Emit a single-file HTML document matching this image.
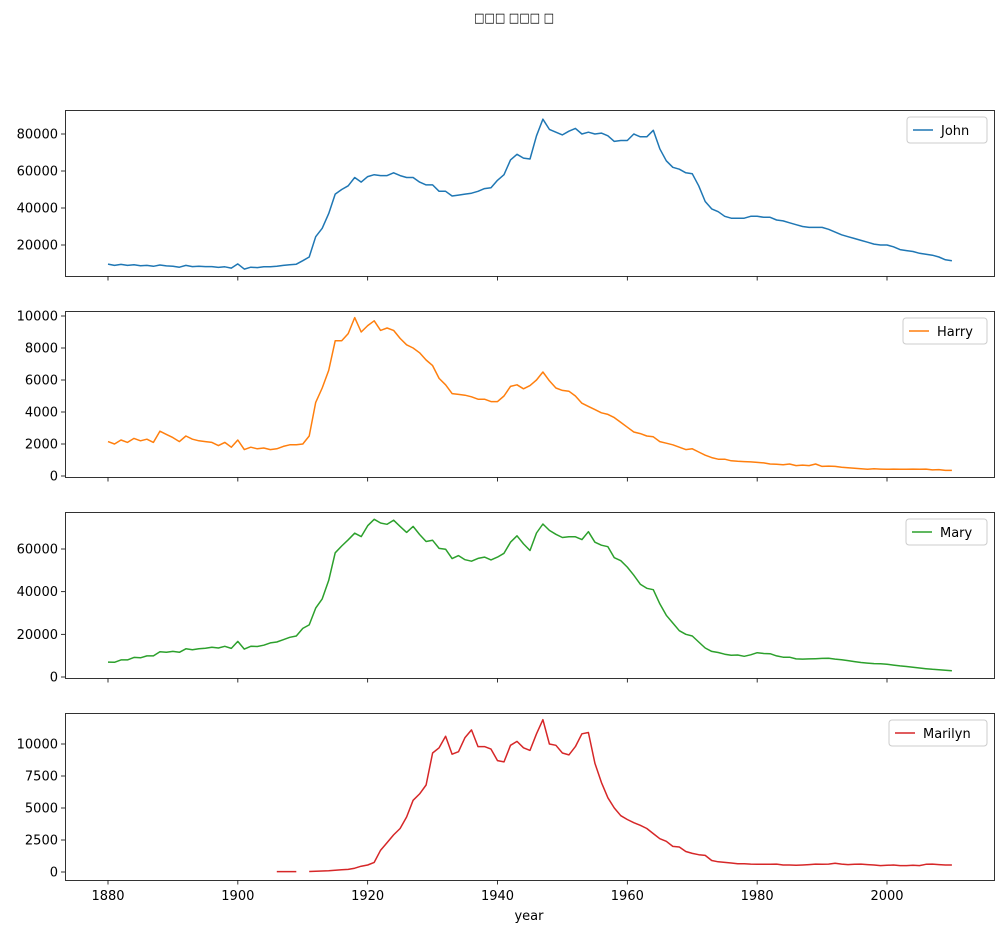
<!DOCTYPE html><html><head><meta charset="utf-8"><style>body{margin:0;background:#fff}svg{display:block}text{font-family:"DejaVu Sans","Liberation Sans",sans-serif;font-size:13px;fill:#000}</style></head><body>
<svg id="s" width="1004" height="933" xmlns="http://www.w3.org/2000/svg">
<text x="474" y="22" font-size="17" textLength="80" lengthAdjust="spacingAndGlyphs">□□□ □□□ □</text>
</svg>
<script>
const s=document.getElementById('s');const NS='http://www.w3.org/2000/svg';
function el(t,a,txt){const e=document.createElementNS(NS,t);for(const k in a)e.setAttribute(k,a[k]);if(txt!=null)e.textContent=txt;s.appendChild(e);return e;}
const X=y=>108+(y-1880)*(779/120);
const john=[9.7,9,9.5,9,9.3,8.8,9,8.5,9.2,8.7,8.5,8,9,8.3,8.5,8.3,8.3,7.9,8.2,7.5,9.8,7,8,7.8,8.2,8.2,8.5,9,9.3,9.6,11.5,13.5,24.5,29,37,47.5,50,52,56.5,54,57,58,57.5,57.5,59,57.5,56.5,56.5,54,52.5,52.5,49,49,46.5,47,47.5,48,49,50.5,51,55,58,66,69,67,66.5,79,88,82.5,81,79.5,81.5,83,80,81,80,80.5,79,76,76.5,76.5,80,78.5,78.5,82,72,65.5,62,61,59,58.5,52,43.5,39.5,38,35.5,34.5,34.5,34.5,35.5,35.5,35,35,33.5,33,32,31,30,29.5,29.5,29.5,28.5,27,25.5,24.5,23.5,22.5,21.5,20.5,20,20,19,17.5,17,16.5,15.5,15,14.5,13.5,12,11.5];
const harry=[2.15,2,2.25,2.1,2.35,2.2,2.3,2.1,2.8,2.6,2.4,2.15,2.5,2.3,2.2,2.15,2.1,1.9,2.1,1.8,2.25,1.65,1.8,1.7,1.75,1.65,1.7,1.85,1.95,1.95,2,2.5,4.6,5.5,6.6,8.45,8.45,8.9,9.9,9,9.4,9.7,9.1,9.25,9.1,8.6,8.2,8,7.7,7.25,6.9,6.1,5.7,5.15,5.1,5.05,4.95,4.8,4.8,4.65,4.65,5,5.6,5.7,5.45,5.65,6,6.5,5.95,5.5,5.35,5.3,5,4.55,4.35,4.15,3.95,3.85,3.65,3.35,3.05,2.75,2.65,2.5,2.45,2.15,2.05,1.95,1.8,1.65,1.7,1.5,1.3,1.15,1.05,1.05,0.95,0.92,0.9,0.88,0.85,0.82,0.75,0.73,0.7,0.75,0.65,0.68,0.65,0.75,0.6,0.62,0.6,0.55,0.52,0.48,0.45,0.42,0.45,0.43,0.42,0.43,0.42,0.42,0.43,0.42,0.43,0.38,0.4,0.35,0.35];
const mary=[7,6.9,8,8,9.2,9,9.9,9.9,11.8,11.6,12,11.6,13.2,12.8,13.2,13.5,13.9,13.6,14.4,13.4,16.7,13.1,14.4,14.3,14.9,16,16.4,17.5,18.6,19.2,22.8,24.4,32.3,36.6,45.3,58.2,61.4,64.3,67.4,65.8,70.9,73.9,72.2,71.6,73.5,70.6,67.8,70.6,66.8,63.5,64.1,60.3,59.9,55.5,56.9,55,54.3,55.6,56.2,54.9,56.2,58,63.2,66.2,62.4,59.3,67.5,71.7,68.7,66.9,65.4,65.7,65.7,64.4,68.1,63.2,61.8,61.1,55.9,54.5,51.5,47.7,43.5,41.6,40.9,34.3,28.9,25.3,21.7,20,19.2,16.4,13.6,12,11.5,10.7,10.2,10.3,9.7,10.4,11.4,11,10.9,9.9,9.3,9.3,8.5,8.4,8.5,8.6,8.7,8.8,8.4,8.1,7.7,7.2,6.8,6.5,6.3,6.2,6,5.6,5.2,4.9,4.6,4.2,3.9,3.6,3.4,3.2,2.9];
const mar={};[[1906,.03],[1907,.03],[1908,.03],[1909,.03]].forEach(p=>mar[p[0]]=p[1]);
const mv=[.04,.06,.08,.1,.14,.17,.2,.3,.45,.55,.75,1.7,2.3,2.9,3.4,4.3,5.6,6.1,6.8,9.3,9.7,10.6,9.2,9.4,10.5,11.1,9.8,9.8,9.6,8.7,8.6,9.9,10.2,9.7,9.5,10.8,11.9,10,9.9,9.3,9.15,9.8,10.8,10.9,8.5,7,5.8,5,4.4,4.1,3.85,3.65,3.4,3,2.6,2.4,2,1.95,1.6,1.45,1.35,1.3,.9,.8,.75,.7,.65,.65,.62,.6,.6,.6,.62,.55,.55,.52,.55,.58,.62,.6,.62,.68,.62,.58,.6,.62,.58,.55,.5,.52,.55,.5,.5,.52,.5,.6,.62,.58,.55,.55];
mv.forEach((v,i)=>mar[1911+i]=v);
const panels=[
{top:110,bot:276,name:'John',c:'#1f77b4',data:john.map((v,i)=>[1880+i,v]),Y:v=>245-(v-20)*111/60,ticks:[20,40,60,80],fmt:v=>v*1000,lw:34},
{top:311,bot:477,name:'Harry',c:'#ff7f0e',data:harry.map((v,i)=>[1880+i,v]),Y:v=>476-v*16,ticks:[0,2,4,6,8,10],fmt:v=>v*1000,lw:38},
{top:512,bot:678,name:'Mary',c:'#2ca02c',data:mary.map((v,i)=>[1880+i,v]),Y:v=>677-v*128/60,ticks:[0,20,40,60],fmt:v=>v*1000,lw:35},
{top:713,bot:880,name:'Marilyn',c:'#d62728',data:Object.keys(mar).map(k=>[+k,mar[k]]),Y:v=>872-v*12.8,ticks:[0,2.5,5,7.5,10],fmt:v=>v*1000,lw:52}];
panels.forEach((p,pi)=>{
 let d='',prev=null;p.data.sort((a,b)=>a[0]-b[0]).forEach(([y,v])=>{d+=(prev!==null&&y===prev+1?'L':'M')+X(y).toFixed(1)+','+p.Y(v).toFixed(1);prev=y;});
 el('path',{d,fill:'none',stroke:p.c,'stroke-width':1.5,'stroke-linejoin':'round'});
 el('rect',{x:65.5,y:p.top+.5,width:929,height:p.bot-p.top,fill:'none',stroke:'#000','stroke-width':0.8});
 p.ticks.forEach(t=>{const y=p.Y(t);el('line',{x1:61,x2:65,y1:y,y2:y,stroke:'#000','stroke-width':0.8});el('text',{x:58,y:y+4.5,'text-anchor':'end'},String(p.fmt(t)));});
 [1880,1900,1920,1940,1960,1980,2000].forEach(yr=>{const x=X(yr);el('line',{x1:x,x2:x,y1:p.bot+.5,y2:p.bot+4.5,stroke:'#000','stroke-width':0.8});if(pi==3)el('text',{x:x,y:p.bot+20,'text-anchor':'middle'},String(yr));});
 const w=p.lw+46,lx=987-w;
 el('rect',{x:lx,y:p.top+7,width:w,height:26,rx:3,fill:'#fff',stroke:'#ccc'});
 el('line',{x1:lx+6,x2:lx+26,y1:p.top+20,y2:p.top+20,stroke:p.c,'stroke-width':1.5});
 el('text',{x:lx+34,y:p.top+25},p.name);
});
el('text',{x:529,y:920,'text-anchor':'middle'},'year');
</script></body></html>
